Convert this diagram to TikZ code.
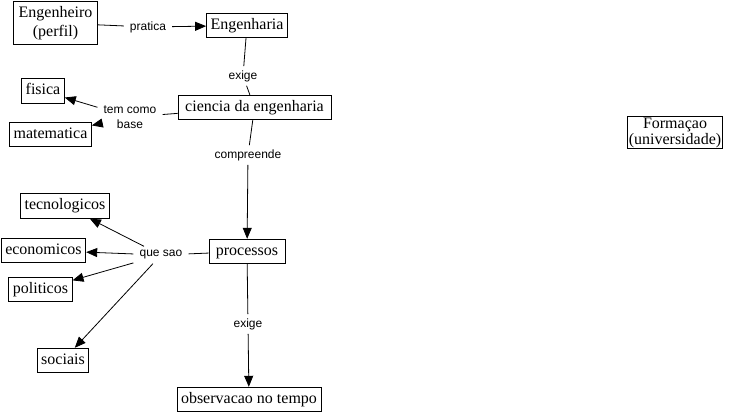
\documentclass[tikz,border=0pt]{standalone}
\usepackage{fontspec}
\setmainfont{Liberation Serif}
\newfontfamily\lblfont{Liberation Sans}
\usetikzlibrary{arrows.meta}
\begin{document}
\begin{tikzpicture}[x=1pt,y=-1pt,
  box/.style={draw,line width=0.9pt,font=\fontsize{16}{16}\selectfont,inner xsep=4pt,inner ysep=5pt,text height=11pt,text depth=3.5pt},
  box2/.style={draw,line width=0.9pt,align=center,inner xsep=4pt},
  lbl/.style={font=\lblfont\fontsize{12}{15}\selectfont,inner xsep=6pt,inner ysep=4pt,align=center},
  conn/.style={line width=0.8pt},
  arr/.style={conn,-{Triangle[length=11pt,width=9pt]}}]
\useasboundingbox (0,0) rectangle (729,415);
% concept boxes
\node[box2,font=\fontsize{16}{19}\selectfont,inner xsep=5pt,inner ysep=5pt] (eng) at (55.5,23) {Engenheiro\\(perfil)};
\node[box] (engh) at (247,25.5) {Engenharia};
\node[box,minimum width=153pt] (cien) at (254.5,107.5) {ciencia da engenharia};
\node[box] (fis) at (43,91) {fisica};
\node[box] (mat) at (50.5,134.5) {matematica};
\node[box] (tec) at (65,206) {tecnologicos};
\node[box] (eco) at (43.5,250.5) {economicos};
\node[box] (pol) at (40.5,289.5) {politicos};
\node[box] (soc) at (63,360.5) {sociais};
\node[box,minimum width=76pt] (proc) at (247,251.5) {processos};
\node[box] (obs) at (249,399.5) {observacao no tempo};
\node[box2,font=\fontsize{16}{16}\selectfont,inner xsep=1.5pt,inner ysep=1.5pt] (form) at (675,132.5) {Formaçao\\(universidade)};
% linking labels
\node[lbl] (pratica) at (148,27) {pratica};
\node[lbl] (exige1) at (243,76) {exige};
\node[lbl] (tcb) at (130,117) {tem como\\base};
\node[lbl] (comp) at (248,155) {compreende};
\node[lbl] (quesao) at (161,255) {que sao};
\node[lbl] (exige2) at (248,324) {exige};
% connectors
\draw[conn] (eng) -- (pratica);
\draw[arr] (pratica) -- (engh);
\draw[conn] (engh) -- (exige1);
\draw[conn] (exige1) -- (cien);
\draw[conn] (cien) -- (tcb);
\draw[arr] (tcb) -- (fis);
\draw[arr] (tcb) -- (mat);
\draw[conn] (cien) -- (comp);
\draw[arr] (comp) -- (proc);
\draw[conn] (proc) -- (quesao);
\draw[arr] (quesao) -- (tec);
\draw[arr] (quesao) -- (eco);
\draw[arr] (quesao) -- (pol);
\draw[arr] (quesao) -- (soc);
\draw[conn] (proc) -- (exige2);
\draw[arr] (exige2) -- (obs);
\end{tikzpicture}
\end{document}
